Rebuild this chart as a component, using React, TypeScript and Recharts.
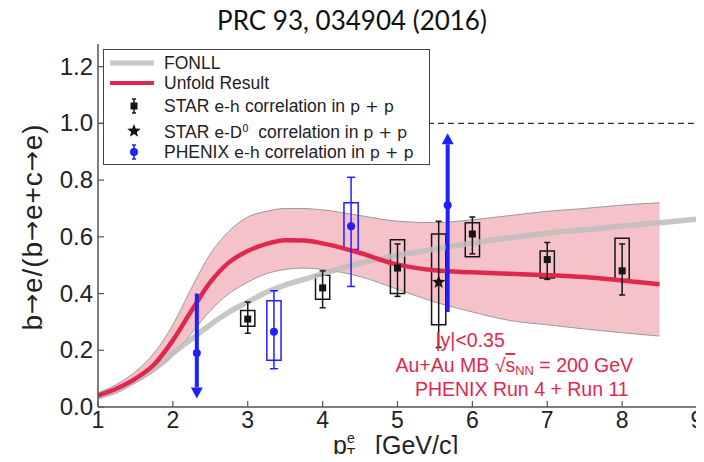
import React from "react";
import {
  ComposedChart,
  XAxis,
  YAxis,
  Line,
  Area,
  Scatter,
  ErrorBar,
  ReferenceLine,
  ReferenceArea,
  ReferenceDot,
  Legend,
} from "recharts";

// pT grid shared by the FONLL curve, the unfolded result and its band
const ptGrid = [1, 1.25, 1.5, 1.75, 2, 2.25, 2.5, 2.75, 3, 3.25, 3.5, 3.75, 4, 4.5, 5, 5.5, 6, 6.5, 7, 7.5, 8, 8.5, 9];
const fonll = [0.035, 0.06, 0.095, 0.135, 0.19, 0.24, 0.29, 0.335, 0.37, 0.405, 0.43, 0.45, 0.47, 0.507, 0.535, 0.557, 0.578, 0.597, 0.613, 0.625, 0.638, 0.65, 0.662];
const unfold = [0.04, 0.065, 0.1, 0.15, 0.235, 0.34, 0.44, 0.51, 0.55, 0.575, 0.588, 0.587, 0.577, 0.543, 0.502, 0.482, 0.475, 0.47, 0.465, 0.458, 0.446, 0.433, null];
const bandLo = [0.03, 0.05, 0.085, 0.125, 0.18, 0.26, 0.34, 0.4, 0.44, 0.47, 0.485, 0.49, 0.485, 0.46, 0.415, 0.37, 0.335, 0.305, 0.29, 0.275, 0.262, 0.25, null];
const bandHi = [0.05, 0.08, 0.125, 0.19, 0.29, 0.42, 0.54, 0.62, 0.67, 0.69, 0.7, 0.7, 0.695, 0.675, 0.655, 0.65, 0.66, 0.675, 0.69, 0.7, 0.712, 0.72, null];

// STAR e-h correlation in p+p
const starPt = [3, 4, 5, 6, 7, 8];
const starVal = [0.31, 0.42, 0.49, 0.61, 0.52, 0.48];
const starStatLo = [0.26, 0.35, 0.39, 0.54, 0.45, 0.395];
const starStatHi = [0.37, 0.48, 0.575, 0.67, 0.58, 0.575];
const starSysLo = [0.285, 0.38, 0.4, 0.53, 0.455, 0.45];
const starSysHi = [0.34, 0.465, 0.59, 0.65, 0.55, 0.595];

// STAR e-D0 correlation in p+p
const d0Pt = [5.55];
const d0Val = [0.44];
const d0StatLo = [0.21];
const d0StatHi = [0.655];
const d0SysLo = [0.29];
const d0SysHi = [0.61];

// PHENIX e-h correlation in p+p (points with full errors)
const phxPt = [3.35, 4.38];
const phxVal = [0.265, 0.637];
const phxStatLo = [0.135, 0.425];
const phxStatHi = [0.41, 0.81];
const phxSysLo = [0.165, 0.555];
const phxSysHi = [0.375, 0.72];

// PHENIX points whose error runs off as an arrow
const phxArrowPt = [2.32, 5.67];
const phxArrowVal = [0.19, 0.711];
const phxArrowFrom = [0.4, 0.335];
const phxArrowTo = [0.03, 0.965];

const xTicks = [1, 2, 3, 4, 5, 6, 7, 8, 9];
const yTicks = [0, 0.2, 0.4, 0.6, 0.8, 1.0, 1.2];

const legendLabels = ["FONLL", "Unfold Result", "STAR", "STAR", "PHENIX"];

const noteX = [5.97, 6.56, 6.66];
const noteY = [0.236, 0.148, 0.064];

const RED = "#e0284f";
const BLUE = "#2020ff";
const INK = "#151515";
const FRAME = "#555";
const SANS = "'Liberation Sans', Arial, Helvetica, sans-serif";
const MATH = "'DejaVu Sans', sans-serif";
const BOX_HALF = 0.095;

const curveRows = ptGrid.map((x, i) => ({
  x,
  fonll: fonll[i],
  unfold: unfold[i],
  band: bandLo[i] == null ? null : [bandLo[i], bandHi[i]],
}));

const withErr = (pts: number[], vals: number[], lo: number[], hi: number[]) =>
  pts.map((x, i) => ({ x, y: vals[i], err: [vals[i] - lo[i], hi[i] - vals[i]] }));

const starRows = withErr(starPt, starVal, starStatLo, starStatHi);
const d0Rows = withErr(d0Pt, d0Val, d0StatLo, d0StatHi);
const phxRows = withErr(phxPt, phxVal, phxStatLo, phxStatHi);
const phxArrowRows = phxArrowPt.map((x, i) => ({ x, y: phxArrowVal[i] }));

const sysBoxes = [
  ...starPt.map((x, i) => ({ x, lo: starSysLo[i], hi: starSysHi[i], color: INK })),
  ...d0Pt.map((x, i) => ({ x, lo: d0SysLo[i], hi: d0SysHi[i], color: INK })),
  ...phxPt.map((x, i) => ({ x, lo: phxSysLo[i], hi: phxSysHi[i], color: BLUE })),
];

const BottomTick = (p: any) => (
  <g>
    <line x1={p.x} y1={p.y} x2={p.x} y2={p.y - 6} stroke={FRAME} strokeWidth={1.2} />
    <text x={p.x} y={p.y + 21} textAnchor="middle" fontSize={23} fontFamily={SANS} fill="#222">
      {p.payload.value}
    </text>
  </g>
);
const TopTick = (p: any) => (
  <line x1={p.x} y1={p.y} x2={p.x} y2={p.y + 6} stroke={FRAME} strokeWidth={1.2} />
);
const LeftTick = (p: any) => (
  <g>
    <line x1={p.x} y1={p.y} x2={p.x + 6} y2={p.y} stroke={FRAME} strokeWidth={1.2} />
    <text x={p.x - 5} y={p.y + 8} textAnchor="end" fontSize={24} fontFamily={SANS} fill="#222">
      {Number(p.payload.value).toFixed(1)}
    </text>
  </g>
);
const RightTick = (p: any) => (
  <line x1={p.x} y1={p.y} x2={p.x - 6} y2={p.y} stroke={FRAME} strokeWidth={1.2} />
);

const Square = (p: any) => <rect x={p.cx - 3.5} y={p.cy - 3.5} width={7} height={7} fill={INK} />;
const Dot = (p: any) => <circle cx={p.cx} cy={p.cy} r={4} fill={BLUE} />;
const Star = (p: any) => {
  const pts: string[] = [];
  for (let k = 0; k < 10; k++) {
    const r = k % 2 === 0 ? 7 : 3;
    const a = -Math.PI / 2 + (k * Math.PI) / 5;
    pts.push(`${p.cx + r * Math.cos(a)},${p.cy + r * Math.sin(a)}`);
  }
  return <polygon points={pts.join(" ")} fill={INK} />;
};

// thick blue line with an arrowhead at its second end
const Arrow = (p: any) => {
  const dir = Math.sign(p.y2 - p.y1);
  const head = 11;
  return (
    <g>
      <line x1={p.x1} y1={p.y1} x2={p.x2} y2={p.y2 - dir * head} stroke={BLUE} strokeWidth={4} />
      <polygon
        points={`${p.x2 - 6},${p.y2 - dir * head} ${p.x2 + 6},${p.y2 - dir * head} ${p.x2},${p.y2}`}
        fill={BLUE}
      />
    </g>
  );
};

const m = (s: React.ReactNode) => <span style={{ fontFamily: MATH, fontSize: 16 }}>{s}</span>;
const pp = m("p + p");

const LegendBox = () => {
  const rowTop = [13, 33, 56, 81, 102];
  const glyphs = [
    <line x1={4} y1={10} x2={48} y2={10} stroke="#c8c8c8" strokeWidth={5} />,
    <line x1={4} y1={10} x2={48} y2={10} stroke={RED} strokeWidth={4} />,
    <g>
      <line x1={28} y1={3} x2={28} y2={17} stroke={INK} strokeWidth={1.5} />
      <line x1={26} y1={3} x2={30} y2={3} stroke={INK} strokeWidth={1.5} />
      <line x1={26} y1={17} x2={30} y2={17} stroke={INK} strokeWidth={1.5} />
      <rect x={24.5} y={6.5} width={7} height={7} fill={INK} />
    </g>,
    <Star cx={28} cy={10} />,
    <g>
      <line x1={28} y1={3} x2={28} y2={17} stroke={BLUE} strokeWidth={1.5} />
      <line x1={26} y1={3} x2={30} y2={3} stroke={BLUE} strokeWidth={1.5} />
      <line x1={26} y1={17} x2={30} y2={17} stroke={BLUE} strokeWidth={1.5} />
      <circle cx={28} cy={10} r={4} fill={BLUE} />
    </g>,
  ];
  const texts = [
    <span>{legendLabels[0]}</span>,
    <span>{legendLabels[1]}</span>,
    <span>
      {legendLabels[2]} {m("e-h")} correlation in {pp}
    </span>,
    <span>
      {legendLabels[3]} {m(<>e-D<sup style={{ fontSize: 10 }}>0</sup></>)}&nbsp; correlation in {pp}
    </span>,
    <span>
      {legendLabels[4]} {m("e-h")} correlation in {pp}
    </span>,
  ];
  return (
    <div
      style={{
        position: "relative",
        width: 327,
        height: 116,
        boxSizing: "border-box",
        border: "1.5px solid #444",
        background: "#fff",
        fontFamily: SANS,
        fontSize: 17.5,
        color: "#222",
      }}
    >
      {rowTop.map((t, i) => (
        <div key={i} style={{ position: "absolute", left: 2, top: t - 10, height: 20, display: "flex", alignItems: "center" }}>
          <svg width={52} height={20}>{glyphs[i]}</svg>
          <div style={{ marginLeft: 6, whiteSpace: "nowrap", lineHeight: "20px" }}>{texts[i]}</div>
        </div>
      ))}
    </div>
  );
};

const Note = (text: React.ReactNode) => (p: any) => (
  <text x={p.cx} y={p.cy} textAnchor="middle" dominantBaseline="central" fontSize={19.5} fontFamily={SANS} fill={RED}>
    {text}
  </text>
);

const arrow = (
  <tspan fontFamily={MATH} fontSize={24}>
    →
  </tspan>
);

export default function App() {
  return (
    <div style={{ position: "relative", width: 704, height: 462, background: "#fff", margin: -8 }}>
      <div
        style={{
          position: "absolute",
          top: 4,
          left: 0,
          width: 704,
          textAlign: "center",
          fontFamily: "Lato, 'Open Sans', sans-serif",
          fontSize: 26,
          color: "#111",
          lineHeight: "32px",
        }}
      >
        PRC 93, 034904 (2016)
      </div>
      <ComposedChart width={704} height={462} margin={{ top: 44, right: 7, bottom: 0, left: 0 }}>
        <XAxis
          dataKey="x"
          type="number"
          domain={[1, 9]}
          ticks={xTicks}
          allowDataOverflow
          height={55}
          tickSize={0}
          tickMargin={0}
          tickLine={false}
          tick={BottomTick}
          axisLine={{ stroke: FRAME, strokeWidth: 1.5 }}
          label={(p: any) => {
            const vb = p.viewBox;
            return (
              <text x={vb.x + 235} y={vb.y + 47} fontSize={25} fontFamily={SANS} fill="#222">
                <tspan>p</tspan>
                <tspan fontSize={14} dy={-11}>e</tspan>
                <tspan fontSize={14} dx={-8} dy={15}>T</tspan>
                <tspan x={vb.x + 277} dy={-4}>[GeV/c]</tspan>
              </text>
            );
          }}
        />
        <XAxis
          xAxisId="top"
          orientation="top"
          dataKey="x"
          type="number"
          domain={[1, 9]}
          ticks={xTicks}
          allowDataOverflow
          height={0}
          tickSize={0}
          tickMargin={0}
          tickLine={false}
          tick={TopTick}
          axisLine={{ stroke: FRAME, strokeWidth: 1.5 }}
        />
        <YAxis
          dataKey="y"
          type="number"
          domain={[0, 1.28]}
          ticks={yTicks}
          allowDataOverflow
          width={98}
          tickSize={0}
          tickMargin={0}
          tickLine={false}
          tick={LeftTick}
          axisLine={{ stroke: FRAME, strokeWidth: 1.5 }}
          label={(p: any) => {
            const vb = p.viewBox;
            const cx = vb.x + 32;
            const cy = vb.y + vb.height / 2 + 2;
            return (
              <text
                x={cx}
                y={cy}
                transform={`rotate(-90 ${cx} ${cy})`}
                textAnchor="middle"
                dominantBaseline="central"
                fontSize={28}
                fontFamily={SANS}
                fill="#222"
                textLength={206}
                lengthAdjust="spacing"
              >
                b{arrow}e/(b{arrow}e+c{arrow}e)
              </text>
            );
          }}
        />
        <YAxis
          yAxisId="right"
          orientation="right"
          dataKey="y"
          type="number"
          domain={[0, 1.28]}
          ticks={yTicks}
          allowDataOverflow
          width={0}
          tickSize={0}
          tickMargin={0}
          tickLine={false}
          tick={RightTick}
          axisLine={{ stroke: FRAME, strokeWidth: 1.5 }}
        />

        <ReferenceLine y={1} stroke="#333" strokeWidth={1.2} strokeDasharray="6 4" />

        <Area
          data={curveRows}
          dataKey="band"
          type="monotone"
          fill="#f5c2ca"
          fillOpacity={1}
          stroke="#9a9a9a"
          strokeWidth={1}
          isAnimationActive={false}
          legendType="none"
        />
        <Line data={curveRows} dataKey="fonll" type="monotone" stroke="#bdbdbd" strokeOpacity={0.85} strokeWidth={5.5} dot={false} isAnimationActive={false} />
        <Line data={curveRows} dataKey="unfold" type="monotone" stroke={RED} strokeWidth={4.5} dot={false} isAnimationActive={false} />

        {sysBoxes.map((b, i) => (
          <ReferenceArea
            key={i}
            x1={b.x - BOX_HALF}
            x2={b.x + BOX_HALF}
            y1={b.lo}
            y2={b.hi}
            fill="none"
            stroke={b.color}
            strokeWidth={1.5}
          />
        ))}

        {phxArrowPt.map((x, i) => (
          <ReferenceLine
            key={i}
            segment={[
              { x, y: phxArrowFrom[i] },
              { x, y: phxArrowTo[i] },
            ]}
            shape={Arrow}
          />
        ))}

        <Scatter data={starRows} dataKey="y" shape={Square} isAnimationActive={false}>
          <ErrorBar dataKey="err" direction="y" width={3} stroke={INK} strokeWidth={1.5} />
        </Scatter>
        <Scatter data={d0Rows} dataKey="y" shape={Star} isAnimationActive={false}>
          <ErrorBar dataKey="err" direction="y" width={3} stroke={INK} strokeWidth={1.5} />
        </Scatter>
        <Scatter data={phxRows} dataKey="y" shape={Dot} isAnimationActive={false}>
          <ErrorBar dataKey="err" direction="y" width={4} stroke={BLUE} strokeWidth={1.5} />
        </Scatter>
        <Scatter data={phxArrowRows} dataKey="y" shape={Dot} isAnimationActive={false} />

        <ReferenceDot x={noteX[0]} y={noteY[0]} shape={Note("|y|<0.35")} />
        <ReferenceDot
          x={noteX[1]}
          y={noteY[1]}
          shape={Note(
            <>
              <tspan>Au+Au MB </tspan>
              <tspan>√</tspan>
              <tspan textDecoration="overline">s</tspan>
              <tspan fontSize={13} dy={5}>NN</tspan>
              <tspan dy={-5}> = 200 GeV</tspan>
            </>
          )}
        />
        <ReferenceDot x={noteX[2]} y={noteY[2]} shape={Note("PHENIX Run 4 + Run 11")} />

        <Legend
          layout="vertical"
          align="center"
          verticalAlign="middle"
          wrapperStyle={{ left: 103, top: 49, width: 327, height: 116 }}
          content={() => <LegendBox />}
        />
      </ComposedChart>
    </div>
  );
}
